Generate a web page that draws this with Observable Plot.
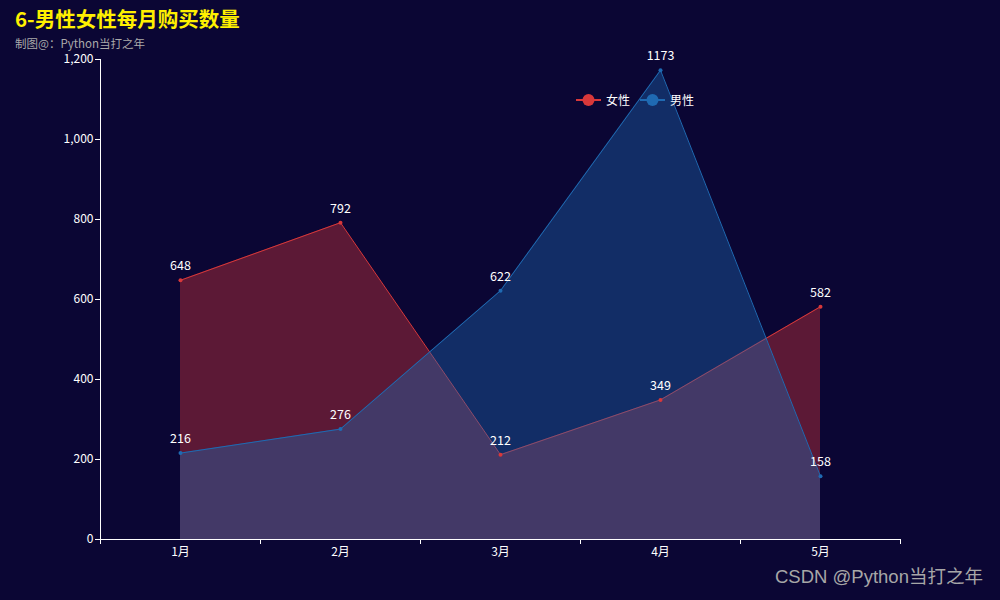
<!DOCTYPE html>
<html>
<head>
<meta charset="utf-8">
<script src="https://cdn.jsdelivr.net/npm/d3@7"></script>
<script src="https://cdn.jsdelivr.net/npm/@observablehq/plot@0.6"></script>
<style>
  html, body { margin: 0; padding: 0; background: #0b0634; }
  body { width: 1000px; height: 600px; position: relative; overflow: hidden; font-family: "Noto Sans CJK SC", "Noto Sans", sans-serif; }
  #title { position: absolute; left: 15px; top: 8px; line-height: 1; color: #fff000; font-size: 20.5px; font-weight: bold; }
  #subtitle { position: absolute; left: 15px; top: 38px; line-height: 1; color: #aaaaaa; font-size: 11.5px; }
  #legend { position: absolute; left: 576px; top: 91px; color: #ffffff; font-size: 12px; display: flex; align-items: center; }
  #legend .item { display: flex; align-items: center; margin-right: 10px; }
  #legend svg { margin-right: 5px; }
  #watermark { position: absolute; left: 775px; top: 568px; line-height: 1; color: #a7a7a7; font-size: 18.5px; font-family: "Liberation Sans", "Noto Sans CJK SC", sans-serif; }
  #chart { position: absolute; left: 0; top: 0; }
</style>
</head>
<body>
<div id="chart"></div>
<div id="title">6-男性女性每月购买数量</div>
<div id="subtitle">制图@：Python当打之年</div>
<div id="legend"></div>
<div id="watermark">CSDN @Python当打之年</div>
<script>
const months = ["1月", "2月", "3月", "4月", "5月"];
const female = [648, 792, 212, 349, 582];
const male = [216, 276, 622, 1173, 158];
const seriesNames = ["女性", "男性"];
const seriesColors = ["#d8383a", "#1f6ab2"];
const yTicks = [0, 200, 400, 600, 800, 1000, 1200];

const rows = [];
months.forEach((m, i) => {
  rows.push({series: seriesNames[0], i, month: m, value: female[i]});
});
months.forEach((m, i) => {
  rows.push({series: seriesNames[1], i, month: m, value: male[i]});
});
const fData = rows.filter(d => d.series === seriesNames[0]);
const mData = rows.filter(d => d.series === seriesNames[1]);
const boundaries = d3.range(months.length + 1).map(k => k - 0.5);

const chart = Plot.plot({
  width: 1000,
  height: 600,
  marginTop: 59,
  marginBottom: 61,
  marginLeft: 100,
  marginRight: 100,
  style: {background: "transparent", color: "#ffffff", fontSize: "12px", fontFamily: "\"Noto Sans CJK SC\", sans-serif"},
  x: {domain: [-0.5, months.length - 0.5]},
  y: {domain: [0, 1200]},
  marks: [
    Plot.areaY(fData, {x: "i", y: "value", fill: seriesColors[0], fillOpacity: 0.4}),
    Plot.lineY(fData, {x: "i", y: "value", stroke: seriesColors[0], strokeWidth: 1}),
    Plot.areaY(mData, {x: "i", y: "value", fill: seriesColors[1], fillOpacity: 0.4}),
    Plot.lineY(mData, {x: "i", y: "value", stroke: seriesColors[1], strokeWidth: 1}),
    Plot.dot(fData, {x: "i", y: "value", r: 2, fill: seriesColors[0]}),
    Plot.dot(mData, {x: "i", y: "value", r: 2, fill: seriesColors[1]}),
    Plot.text(rows, {x: "i", y: "value", text: d => String(d.value), dy: -14, fill: "#ffffff", fontSize: 12.5}),
    Plot.ruleX([-0.5], {y1: 0, y2: 1200, stroke: "#ffffff"}),
    Plot.ruleY([0], {stroke: "#ffffff"}),
    Plot.axisY({ticks: yTicks, tickFormat: d3.format(","), tickSize: 5, tickPadding: 2, color: "#ffffff", label: null}),
    Plot.axisX({ticks: boundaries, tickFormat: () => "", tickSize: 5, color: "#ffffff", label: null}),
    Plot.axisX({ticks: d3.range(months.length), tickFormat: i => months[i], tickSize: 0, tickPadding: 8, color: "#ffffff", label: null})
  ]
});
document.getElementById("chart").appendChild(chart);

const legend = document.getElementById("legend");
seriesNames.forEach((name, k) => {
  const item = document.createElement("div");
  item.className = "item";
  item.innerHTML = `<svg width="25" height="14"><line x1="0" y1="7" x2="25" y2="7" stroke="${seriesColors[k]}" stroke-width="2"/><circle cx="12.5" cy="7" r="6" fill="${seriesColors[k]}"/></svg><span>${name}</span>`;
  legend.appendChild(item);
});
</script>
</body>
</html>
